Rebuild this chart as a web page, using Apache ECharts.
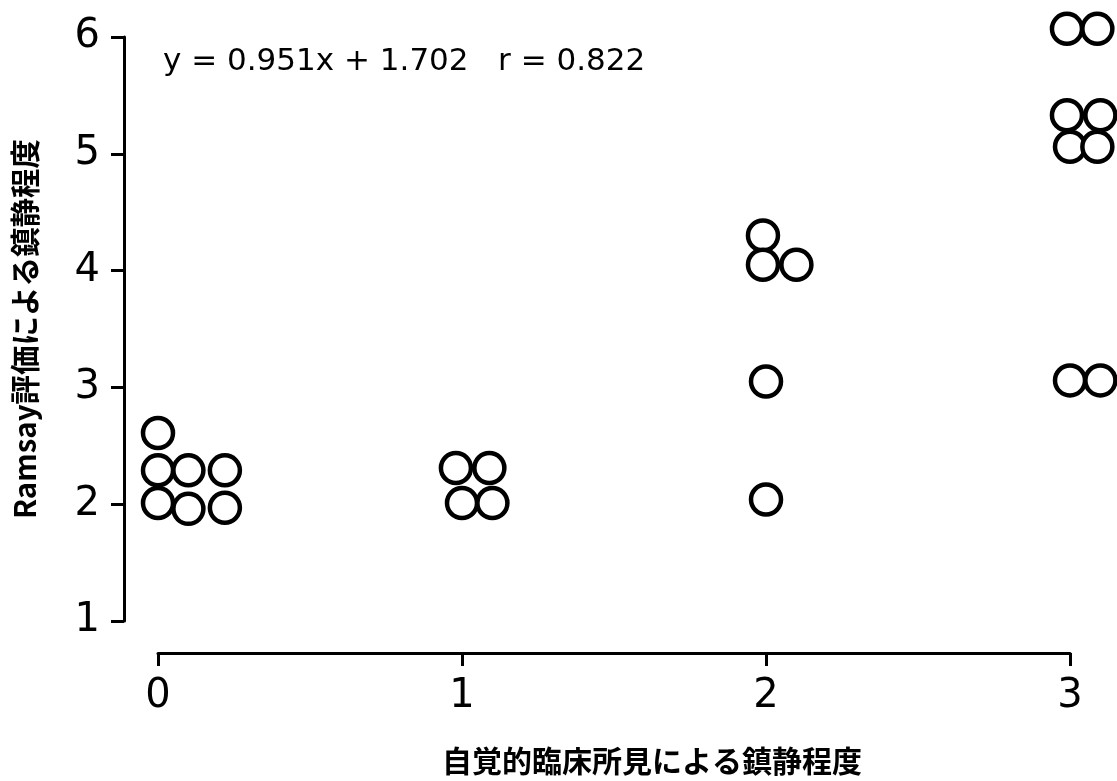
<!DOCTYPE html>
<html>
<head>
<meta charset="utf-8">
<script src="https://cdn.jsdelivr.net/npm/echarts@6/dist/echarts.min.js"></script>
<style>
html,body{margin:0;padding:0;background:#fff;}
#chart{width:1117px;height:781px;}
</style>
</head>
<body>
<div id="chart"></div>
<script>
// Data (x is jittered around the integer category)
const xs = [0.00, 0.00, 0.10, 0.22, 0.00, 0.10, 0.22,
            0.98, 1.09, 1.00, 1.10,
            1.99, 1.99, 2.10, 2.00, 2.00,
            2.99, 3.09, 2.99, 3.10, 3.00, 3.09, 3.00, 3.10];
const ys = [2.61, 2.29, 2.29, 2.29, 2.01, 1.96, 1.97,
            2.31, 2.31, 2.01, 2.01,
            4.30, 4.05, 4.05, 3.05, 2.04,
            6.07, 6.07, 5.33, 5.33, 5.06, 5.06, 3.06, 3.06];
const xTicks = [0, 1, 2, 3];
const yTicks = [1, 2, 3, 4, 5, 6];
const xName = '自覚的臨床所見による鎮静程度';
const yName = 'Ramsay評価による鎮静程度';
const annotation = 'y = 0.951x + 1.702   r = 0.822';

const points = xs.map((x, i) => [x, ys[i]]);
const chart = echarts.init(document.getElementById('chart'));
const font = '"DejaVu Sans", sans-serif';
const cjk = '"Noto Sans CJK JP", sans-serif';
chart.setOption({
  animation: false,
  backgroundColor: '#fff',
  grid: {left: 158, right: 47, top: 37, bottom: 160},
  xAxis: {
    type: 'value', min: xTicks[0], max: xTicks[xTicks.length - 1], interval: 1, offset: 32,
    axisLine: {onZero: false, lineStyle: {color: '#000', width: 3}},
    axisTick: {length: 13, lineStyle: {color: '#000', width: 3}},
    axisLabel: {color: '#000', fontSize: 40, fontFamily: font, margin: 24},
    splitLine: {show: false},
    name: xName, nameLocation: 'middle', nameGap: 93,
    nameTextStyle: {color: '#000', fontSize: 30, fontWeight: 'bold', fontFamily: cjk, padding: [0, 0, 0, 76]}
  },
  yAxis: {
    type: 'value', min: yTicks[0], max: yTicks[yTicks.length - 1], interval: 1, offset: 34,
    axisLine: {onZero: false, lineStyle: {color: '#000', width: 3}},
    axisTick: {length: 13, lineStyle: {color: '#000', width: 3}},
    axisLabel: {color: '#000', fontSize: 40, fontFamily: font, margin: 24},
    splitLine: {show: false},
    name: yName, nameLocation: 'middle', nameGap: 84,
    nameTextStyle: {color: '#000', fontSize: 29.5, fontWeight: 'bold', fontFamily: cjk}
  },
  graphic: [{
    type: 'text', left: 163, top: 46,
    style: {text: annotation, fill: '#000', font: '31px ' + font}
  }],
  series: [{
    type: 'scatter',
    data: points,
    clip: false,
    symbol: 'circle',
    symbolSize: 30,
    itemStyle: {color: '#fff', borderColor: '#000', borderWidth: 4.5, opacity: 1},
    z: 5
  }]
});
</script>
</body>
</html>
